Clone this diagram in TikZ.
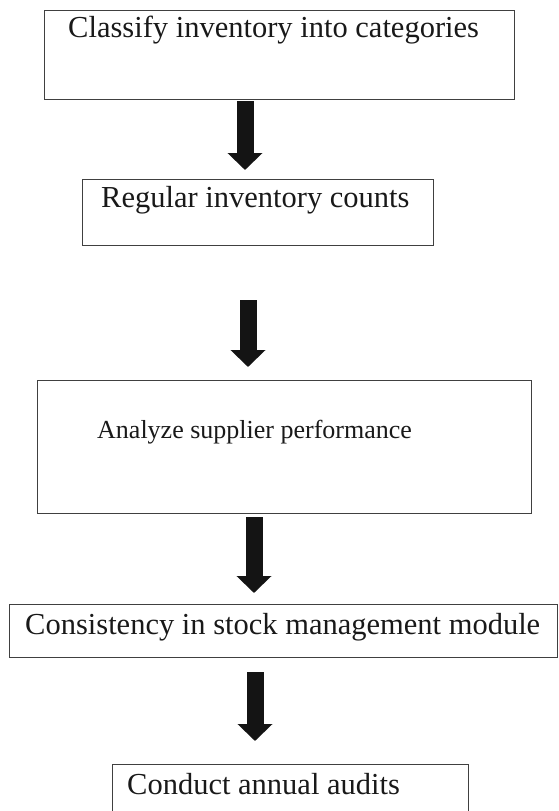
\documentclass[tikz,border=0pt]{standalone}
\usepackage{fontspec}
\setmainfont{Liberation Serif}
\usetikzlibrary{arrows.meta}

\begin{document}
\begin{tikzpicture}
[x=1pt,y=-1pt,
  boxDecorate/.style={draw=black!75,line width=0.9pt,inner sep=0pt},
  textDecorate/.style={anchor=base west,inner sep=0pt,text=black!90},
  arrowDecorate/.style={draw=black!92,line width=17pt,-{Triangle[width=34pt,length=17pt]}}]
\useasboundingbox (0,0) rectangle (558,811);
%% boxes
\foreach \boxname/\cx/\cy/\w/\h in {
  classify/279/54.5/470/89,
  counts/257.5/212/351/66,
  supplier/284/446.5/494/133,
  module/283/630.5/548/53,
  audits/290/797/356/66}
{
  \node (\boxname) at (\cx,\cy) [boxDecorate,minimum width=\w pt,minimum height=\h pt] {};
}
%% texts
\foreach \textname/\x/\y/\fs/\txt in {
  classifytext/68/37/30.5/Classify inventory into categories,
  countstext/101/207/30.5/Regular inventory counts,
  suppliertext/97/438/26/Analyze supplier performance,
  moduletext/25/634/30.5/Consistency in stock management module,
  auditstext/127/794/30.5/Conduct annual audits}
{
  \node (\textname) at (\x,\y) [textDecorate,font=\fontsize{\fs}{\fs}\selectfont] {\txt};
}
%% arrows
\foreach \arrowname/\x/\ytop/\ytip in {
  1/245/101/170, 2/248/300/367, 3/254/517/593, 4/255/672/741}
{
  \coordinate (top\arrowname) at (\x,\ytop);
  \coordinate (tip\arrowname) at (\x,\ytip);
  \draw[arrowDecorate] (top\arrowname) -- (tip\arrowname);
}
\end{tikzpicture}
\end{document}
